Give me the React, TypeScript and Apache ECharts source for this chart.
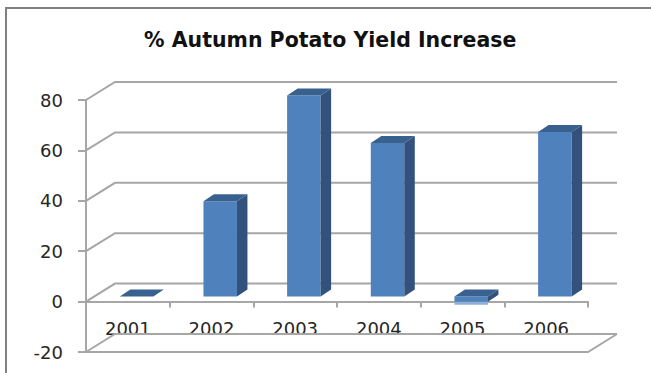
import React, { useEffect, useRef } from "react";
import * as echarts from "echarts";

const titleText = "% Autumn Potato Yield Increase";
const years = ["2001", "2002", "2003", "2004", "2005", "2006"];
const yieldIncrease = [0, 37.8, 79.8, 61, -2, 65.3];
const wallTicks = [-20, 0, 20, 40, 60, 80];

const AXIS_GRAY = "#a6a6a6";
const TEXT_COLOR = "#262626";
const FONT = "'DejaVu Sans', sans-serif";

// Oblique offset of the back wall relative to the front of the plot.
const WALL_DX = 29;
const WALL_DY = -18;
// Oblique offset of a bar's back face, and where its front sits inside the box.
const BAR_DX = 10.5;
const BAR_DY = -7;
const BAR_SHIFT_X = 8.7;
const BAR_SHIFT_Y = -5;
const BAR_WIDTH = 33.5;

const wallLine = (points: number[][]) => ({
  type: "polyline",
  shape: { points },
  style: { fill: "none", stroke: AXIS_GRAY, lineWidth: 2 },
});

function renderWall(params: any, api: any) {
  const value = api.value(1);
  const y = api.coord([0, value])[1];
  const { x, width } = params.coordSys;
  const right = x + width;
  const children = [
    wallLine([
      [x, y],
      [x + WALL_DX, y + WALL_DY],
      [right + WALL_DX, y + WALL_DY],
    ]),
  ];
  // The floor of the box is closed on its front and right edges.
  if (value === wallTicks[0]) {
    children.push(
      wallLine([
        [x, y],
        [right, y],
        [right + WALL_DX, y + WALL_DY],
      ]),
    );
  }
  return { type: "group", children };
}

function renderBar(_params: any, api: any) {
  const [cx, zeroY] = api.coord([api.value(0), 0]);
  const valueY = api.coord([api.value(0), api.value(1)])[1];
  const left = cx - BAR_WIDTH / 2 + BAR_SHIFT_X;
  const right = left + BAR_WIDTH;
  const upper = Math.min(zeroY, valueY) + BAR_SHIFT_Y;
  const lower = Math.max(zeroY, valueY) + BAR_SHIFT_Y;
  const poly = (points: number[][], fill: string) => ({
    type: "polygon",
    shape: { points },
    style: { fill, stroke: "none" },
  });
  const children: any[] = [];
  if (api.value(1) < 0) {
    // Pale underside visible on bars that drop below zero.
    children.push({
      type: "rect",
      shape: { x: left, y: lower, width: BAR_WIDTH, height: 3 },
      style: { fill: "#8fb0da" },
    });
  }
  if (lower > upper) {
    children.push(
      poly(
        [
          [left, upper],
          [right, upper],
          [right, lower],
          [left, lower],
        ],
        "#4f81bd",
      ),
      poly(
        [
          [right, upper],
          [right + BAR_DX, upper + BAR_DY],
          [right + BAR_DX, lower + BAR_DY],
          [right, lower],
        ],
        "#32527d",
      ),
    );
  }
  children.push(
    poly(
      [
        [left, upper],
        [left + BAR_DX, upper + BAR_DY],
        [right + BAR_DX, upper + BAR_DY],
        [right, upper],
      ],
      "#39618f",
    ),
  );
  return { type: "group", children };
}

export default function App() {
  const ref = useRef<HTMLDivElement>(null);

  useEffect(() => {
    const chart = echarts.init(ref.current!, null, { renderer: "svg" });
    chart.setOption({
      animation: false,
      backgroundColor: "#ffffff",
      title: {
        text: titleText,
        left: 139,
        top: 24,
        textStyle: {
          fontFamily: FONT,
          fontWeight: "bold",
          fontSize: 20.5,
          color: "#111111",
        },
      },
      grid: { left: 86, right: 63, top: 100, bottom: 21, outerBoundsMode: "none" },
      xAxis: {
        type: "category",
        data: years,
        axisLine: { onZero: true, lineStyle: { color: AXIS_GRAY, width: 2 } },
        axisTick: { show: true, length: 6, lineStyle: { color: AXIS_GRAY, width: 2 } },
        axisLabel: {
          margin: -33,
          fontFamily: FONT,
          fontSize: 18,
          color: TEXT_COLOR,
        },
        splitLine: { show: false },
      },
      yAxis: {
        type: "value",
        min: -20,
        max: 80,
        interval: 20,
        axisLine: { show: true, lineStyle: { color: AXIS_GRAY, width: 2 } },
        axisTick: { show: true, length: 8, lineStyle: { color: AXIS_GRAY, width: 2 } },
        axisLabel: {
          margin: 23,
          fontFamily: FONT,
          fontSize: 18,
          color: TEXT_COLOR,
        },
        splitLine: { show: false },
      },
      series: [
        {
          type: "custom",
          name: "wall",
          z: 1,
          clip: false,
          silent: true,
          renderItem: renderWall,
          data: wallTicks.map((v) => [0, v]),
        },
        {
          type: "custom",
          name: "% increase",
          z: 3,
          clip: false,
          renderItem: renderBar,
          data: yieldIncrease.map((v, i) => [i, v]),
        },
      ],
      graphic: [
        {
          type: "polyline",
          shape: {
            points: [
              [6, 373],
              [6, 8],
              [651, 8],
            ],
          },
          style: { fill: "none", stroke: "#808080", lineWidth: 2 },
        },
      ],
    });
    return () => chart.dispose();
  }, []);

  return (
    <div
      ref={ref}
      style={{ position: "absolute", left: 0, top: 0, width: 651, height: 373 }}
    />
  );
}
